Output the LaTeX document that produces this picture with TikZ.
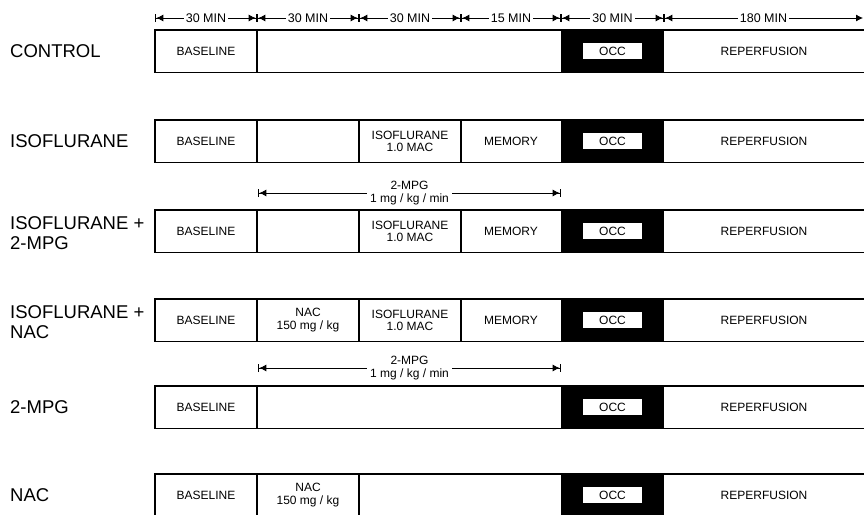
\documentclass[tikz,border=0pt]{standalone}
\usepackage{fontspec}
\setmainfont{Liberation Sans}
\usetikzlibrary{arrows.meta}
\tikzset{
  frame/.style={line width=1.2pt},
  lab/.style={font=\fontsize{12}{12.5}\selectfont, align=center, inner sep=0pt},
  grp/.style={font=\fontsize{18.5}{19.5}\selectfont, align=left, anchor=west, inner sep=0pt},
  dimline/.style={line width=0.9pt,
    {Bar[width=8pt,line width=1.3pt]Latex[length=7pt,width=7pt]}-{Latex[length=7pt,width=7pt]Bar[width=8pt,line width=1.3pt]}},
  dimlast/.style={line width=0.9pt,
    {Bar[width=8pt,line width=1.3pt]Latex[length=7pt,width=7pt]}-{Latex[length=7pt,width=7pt]}},
  hlab/.style={font=\fontsize{12.5}{13}\selectfont, fill=white, inner sep=2pt},
  dlab/.style={font=\fontsize{12}{12.5}\selectfont, fill=white, align=center, inner xsep=3pt, inner ysep=0.5pt},
  occbox/.style={fill=white, minimum width=59pt, minimum height=16pt, inner sep=0pt,
    font=\fontsize{12}{12.5}\selectfont}
}
\newcommand\protrow[2]{%
  \draw[frame] (870,#2) -- (155,#2) -- (155,#2+42.5) -- (870,#2+42.5);
  \draw[frame] (257,#2) -- (257,#2+42.5);
  \fill (561,#2) rectangle (664,#2+42.5);
  \node[lab] (#1base) at (206,#2+21.25) {BASELINE};
  \node[occbox] (#1occ) at (612.5,#2+21.25) {OCC};
  \node[lab] (#1rep) at (764,#2+21.25) {REPERFUSION};
}
\begin{document}
\begin{tikzpicture}[x=1pt,y=-1pt]
\useasboundingbox (0,0) rectangle (864,514);
\clip (0,0) rectangle (864,514);
\fill[white] (0,0) rectangle (864,514);

% header time scale
\coordinate (h0) at (155,18);
\coordinate (h1) at (257,18);
\coordinate (h2) at (359,18);
\coordinate (h3) at (461,18);
\coordinate (h4) at (561,18);
\coordinate (h5) at (664,18);
\coordinate (h6) at (863,18);
\draw[dimline] (h0) -- node[hlab] (t1) {30 MIN} (h1);
\draw[dimline] (h1) -- node[hlab] (t2) {30 MIN} (h2);
\draw[dimline] (h2) -- node[hlab] (t3) {30 MIN} (h3);
\draw[dimline] (h3) -- node[hlab] (t4) {15 MIN} (h4);
\draw[dimline] (h4) -- node[hlab] (t5) {30 MIN} (h5);
\draw[dimlast] (h5) -- node[hlab] (t6) {180 MIN} (h6);

% row 1: control
\node[grp] (gcontrol) at (10,51.25) {CONTROL};
\protrow{r1}{30}

% row 2: isoflurane
\node[grp] (giso) at (10,141.25) {ISOFLURANE};
\protrow{r2}{120}
\draw[frame] (359,120) -- (359,162.5);
\draw[frame] (461,120) -- (461,162.5);
\node[lab] (r2iso) at (410,141.25) {ISOFLURANE\\1.0 MAC};
\node[lab] (r2mem) at (511,141.25) {MEMORY};

% 2-MPG infusion arrow (row 3)
\coordinate (m1a) at (258,193);
\coordinate (m1b) at (561,193);
\draw[dimline] (m1a) -- node[dlab] (m1lab) {2-MPG\\1 mg / kg / min} (m1b);

% row 3: isoflurane + 2-MPG
\node[grp] (giso2mpg) at (10,233) {ISOFLURANE +\\2-MPG};
\protrow{r3}{210}
\draw[frame] (359,210) -- (359,252.5);
\draw[frame] (461,210) -- (461,252.5);
\node[lab] (r3iso) at (410,231.25) {ISOFLURANE\\1.0 MAC};
\node[lab] (r3mem) at (511,231.25) {MEMORY};

% row 4: isoflurane + NAC
\node[grp] (gisonac) at (10,322) {ISOFLURANE +\\NAC};
\protrow{r4}{299}
\draw[frame] (359,299) -- (359,341.5);
\draw[frame] (461,299) -- (461,341.5);
\node[lab] (r4nac) at (308,320.25) {NAC\\150 mg / kg};
\node[lab] (r4iso) at (410,320.25) {ISOFLURANE\\1.0 MAC};
\node[lab] (r4mem) at (511,320.25) {MEMORY};

% 2-MPG infusion arrow (row 5)
\coordinate (m2a) at (258,368);
\coordinate (m2b) at (561,368);
\draw[dimline] (m2a) -- node[dlab] (m2lab) {2-MPG\\1 mg / kg / min} (m2b);

% row 5: 2-MPG
\node[grp] (g2mpg) at (10,407.25) {2-MPG};
\protrow{r5}{386}

% row 6: NAC
\node[grp] (gnac) at (10,495.25) {NAC};
\protrow{r6}{474}
\draw[frame] (359,474) -- (359,516.5);
\node[lab] (r6nac) at (308,495.25) {NAC\\150 mg / kg};
\end{tikzpicture}
\end{document}
